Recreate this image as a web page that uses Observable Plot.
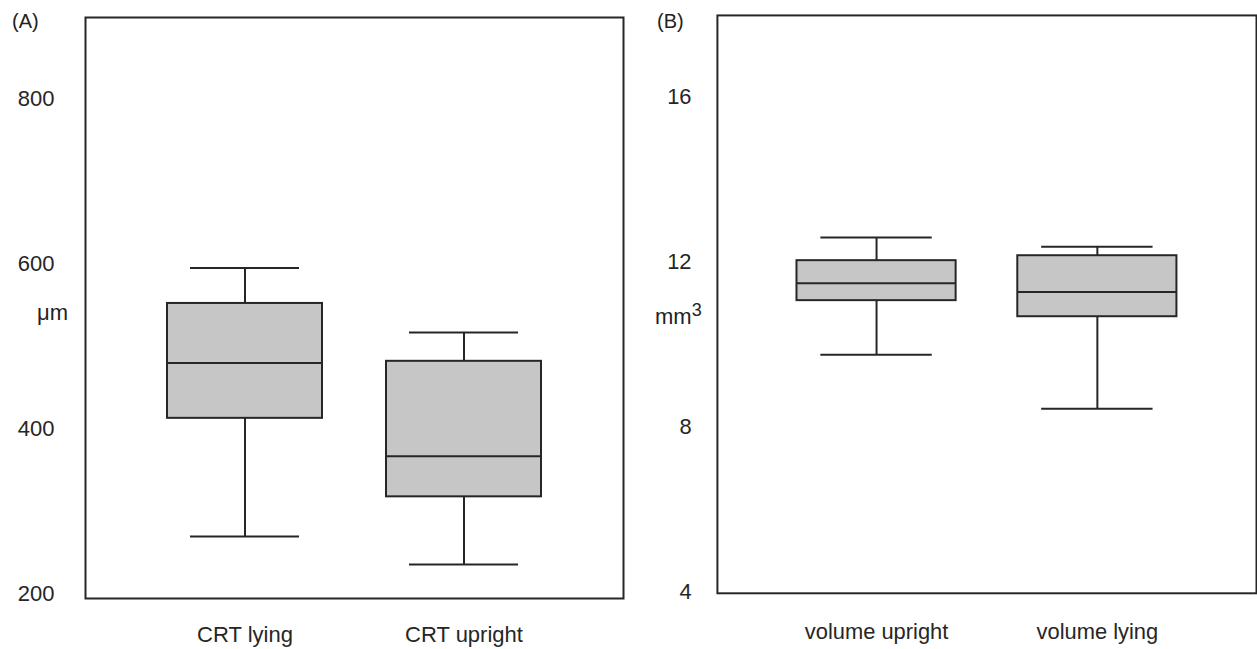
<!DOCTYPE html>
<html>
<head>
<meta charset="utf-8">
<script src="https://cdn.jsdelivr.net/npm/d3@7"></script>
<script src="https://cdn.jsdelivr.net/npm/@observablehq/plot@0.6"></script>
<style>
  html, body { margin: 0; padding: 0; background: #fff; overflow: hidden; }
  #wrap { position: relative; width: 1257px; height: 649px; overflow: hidden;
          font-family: "Liberation Sans", Arial, sans-serif; color: #222; }
  .panel { position: absolute; top: 0; }
  .lbl { position: absolute; white-space: nowrap; line-height: 22px; font-size: 22px; }
  .tag { position: absolute; white-space: nowrap; line-height: 20px; font-size: 20px; }
</style>
</head>
<body>
<div id="wrap">
  <div id="pa" class="panel" style="left:0px"></div>
  <div id="pb" class="panel" style="left:700px"></div>
  <div class="tag" style="left:12px; top:11px">(A)</div>
  <div class="tag" style="left:657px; top:11px">(B)</div>
  <div class="lbl" style="left:37px; top:302px">μm</div>
  <div class="lbl" style="left:655px; top:306px">mm<span style="font-size:18px; position:relative; top:-8px">3</span></div>
</div>
<script>
// Panel A: central retinal thickness (µm)
const crtCategories = ["CRT lying", "CRT upright"];
const crtMin    = [270, 236];
const crtQ1     = [413, 318];
const crtMedian = [480, 367];
const crtQ3     = [552, 482];
const crtMax    = [595, 517];
const crtTicks  = [200, 400, 600, 800];

// Panel B: volume (mm³)
const volCategories = ["volume upright", "volume lying"];
const volMin    = [9.75, 8.44];
const volQ1     = [11.06, 10.67];
const volMedian = [11.48, 11.27];
const volQ3     = [12.03, 12.15];
const volMax    = [12.59, 12.37];
const volTicks  = [4, 8, 12, 16];

const INK = "#262626";
const FILL = "#c6c6c6";
const SW = 2;

function boxPanel(o) {
  const rows = o.cats.map((c, i) => ({
    cat: c, min: o.mins[i], q1: o.q1s[i], med: o.meds[i], q3: o.q3s[i], max: o.maxs[i]
  }));
  return Plot.plot({
    width: o.width, height: 649,
    marginLeft: o.ml, marginRight: o.mr, marginTop: o.mt, marginBottom: o.mb,
    style: { fontFamily: "'Liberation Sans', Arial, sans-serif", fontSize: "22px", color: INK, background: "transparent", overflow: "visible" },
    x: { domain: o.cats, paddingInner: o.pi, paddingOuter: o.po, label: null },
    y: { domain: o.domain, label: null },
    marks: [
      Plot.axisY({ ticks: o.ticks, tickSize: 0, tickPadding: o.yPad, label: null, tickFormat: d => String(d) }),
      Plot.axisX({ tickSize: 0, tickPadding: o.xPad, label: null }),
      Plot.ruleX(rows, { x: "cat", y1: "min", y2: "max", stroke: INK, strokeWidth: SW }),
      Plot.tickY(rows, { x: "cat", y: "min", insetLeft: o.cap, insetRight: o.cap, stroke: INK, strokeWidth: SW }),
      Plot.tickY(rows, { x: "cat", y: "max", insetLeft: o.cap, insetRight: o.cap, stroke: INK, strokeWidth: SW }),
      Plot.barY(rows, { x: "cat", y1: "q1", y2: "q3", fill: FILL, stroke: INK, strokeWidth: SW }),
      Plot.tickY(rows, { x: "cat", y: "med", stroke: INK, strokeWidth: SW }),
      Plot.frame({ stroke: INK, strokeWidth: SW })
    ]
  });
}

document.getElementById("pa").append(boxPanel({
  cats: crtCategories, mins: crtMin, q1s: crtQ1, meds: crtMedian, q3s: crtQ3, maxs: crtMax,
  ticks: crtTicks, domain: [195, 898],
  width: 640, ml: 85, mr: 17, mt: 17, mb: 51,
  pi: 0.294, po: 0.372, cap: 23, yPad: 31, xPad: 28
}));

document.getElementById("pb").append(boxPanel({
  cats: volCategories, mins: volMin, q1s: volQ1, meds: volMedian, q3s: volQ3, maxs: volMax,
  ticks: volTicks, domain: [3.96, 17.98],
  width: 560, ml: 17, mr: 1, mt: 15, mb: 53,
  pi: 0.279, po: 0.36, cap: 24, yPad: 26, xPad: 30
}));
</script>
</body>
</html>
